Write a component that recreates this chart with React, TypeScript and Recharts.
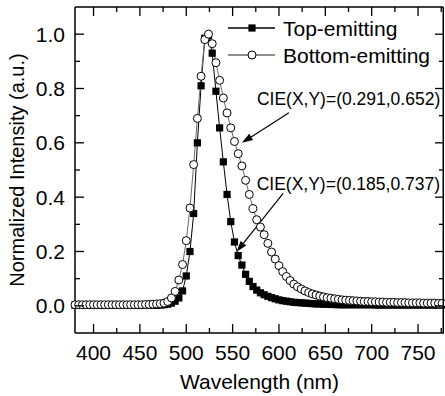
import React from "react";
import { LineChart, Line, XAxis, YAxis, Legend, ReferenceLine } from "recharts";

// wavelength grid (nm), 4 nm step
const wavelength = [
  380, 384, 388, 392, 396, 400, 404, 408, 412, 416, 420, 424, 428, 432, 436, 440, 444, 448, 452, 456,
  460, 464, 468, 472, 476, 480, 484, 488, 492, 496, 500, 504, 508, 512, 516, 520, 524, 528, 532, 536,
  540, 544, 548, 552, 556, 560, 564, 568, 572, 576, 580, 584, 588, 592, 596, 600, 604, 608, 612, 616,
  620, 624, 628, 632, 636, 640, 644, 648, 652, 656, 660, 664, 668, 672, 676, 680, 684, 688, 692, 696,
  700, 704, 708, 712, 716, 720, 724, 728, 732, 736, 740, 744, 748, 752, 756, 760, 764, 768, 772, 776,
];

const topEmitting = [
  0.002, 0.002, 0.002, 0.002, 0.002, 0.002, 0.002, 0.002, 0.002, 0.002, 0.002, 0.002, 0.002, 0.002, 0.002, 0.002, 0.002, 0.002, 0.002, 0.002,
  0.002, 0.002, 0.002, 0.003, 0.004, 0.006, 0.010, 0.017, 0.029, 0.055, 0.11, 0.2, 0.34, 0.6, 0.81, 0.985, 0.995, 0.93, 0.79, 0.655,
  0.53, 0.41, 0.31, 0.235, 0.185, 0.15, 0.116, 0.09, 0.071, 0.058, 0.048, 0.041, 0.035, 0.03, 0.026, 0.022, 0.019, 0.017, 0.015, 0.013,
  0.012, 0.011, 0.01, 0.009, 0.008, 0.007, 0.007, 0.006, 0.006, 0.005, 0.005, 0.004, 0.004, 0.004, 0.004, 0.004, 0.004, 0.004, 0.004, 0.004,
  0.004, 0.003, 0.003, 0.003, 0.003, 0.003, 0.003, 0.003, 0.003, 0.003, 0.003, 0.003, 0.003, 0.003, 0.003, 0.003, 0.003, 0.003, 0.003, 0.003,
];

const bottomEmitting = [
  0.004, 0.004, 0.004, 0.004, 0.004, 0.004, 0.004, 0.004, 0.004, 0.004, 0.004, 0.004, 0.004, 0.004, 0.004, 0.004, 0.004, 0.004, 0.004, 0.005,
  0.005, 0.006, 0.007, 0.008, 0.010, 0.016, 0.029, 0.053, 0.095, 0.152, 0.24, 0.36, 0.52, 0.69, 0.845, 0.98, 1.0, 0.965, 0.895, 0.83,
  0.765, 0.71, 0.655, 0.605, 0.56, 0.515, 0.462, 0.41, 0.358, 0.317, 0.29, 0.262, 0.23, 0.198, 0.172, 0.148, 0.126, 0.108, 0.093, 0.08,
  0.07, 0.062, 0.055, 0.049, 0.044, 0.04, 0.036, 0.033, 0.03, 0.028, 0.026, 0.024, 0.022, 0.021, 0.02, 0.019, 0.018, 0.017, 0.016, 0.016,
  0.015, 0.015, 0.014, 0.014, 0.013, 0.013, 0.013, 0.012, 0.012, 0.012, 0.011, 0.011, 0.011, 0.011, 0.01, 0.01, 0.01, 0.01, 0.009, 0.009,
];

const xDomain = [380, 778];
const yDomain = [-0.1, 1.1];
const xTicks = [400, 425, 450, 475, 500, 525, 550, 575, 600, 625, 650, 675, 700, 725, 750, 775];
const yTicks = [0, 0.1, 0.2, 0.3, 0.4, 0.5, 0.6, 0.7, 0.8, 0.9, 1.0];

const seriesNames = ["Top-emitting", "Bottom-emitting"];

// CIE notes: text, arrow tail and arrow tip in data units
const cieLabels = ["CIE(X,Y)=(0.291,0.652)", "CIE(X,Y)=(0.185,0.737)"];
const arrowFrom = [
  [610.7, 0.711],
  [604.5, 0.414],
];
const arrowTo = [
  [560, 0.6],
  [554.3, 0.199],
];
const labelShift = [
  [-32, -7.5],
  [-26.5, -3],
];

const data = wavelength.map((wl, i) => ({ wl, top: topEmitting[i], bottom: bottomEmitting[i] }));

const W = 445;
const H = 396;
const MARGIN = { top: 7, right: 1, bottom: 0, left: 0 };
const Y_AXIS_W = 75;
const X_AXIS_H = 63;
// plot box that follows from the margins and axis sizes above
const PLOT = {
  left: MARGIN.left + Y_AXIS_W,
  top: MARGIN.top,
  right: W - MARGIN.right,
  bottom: H - MARGIN.bottom - X_AXIS_H,
};

const FONT = "'Liberation Sans', Arial, sans-serif";
const BOTTOM_LINE = "#6a6a6a";

const Square = (p: any) =>
  p.cx == null ? null : (
    <rect key={`sq${p.index}`} x={p.cx - 3.6} y={p.cy - 3.6} width={7.2} height={7.2} fill="#000" />
  );

const Ring = (p: any) =>
  p.cx == null ? null : (
    <circle key={`ci${p.index}`} cx={p.cx} cy={p.cy} r={4} fill="#fff" stroke="#000" strokeWidth={1} />
  );

const isMajorX = (v: number) => v % 50 === 0;
const isMajorY = (v: number) => Math.round(v * 10) % 2 === 0;

function BottomTick(p: any) {
  const v = p.payload.value;
  const major = isMajorX(v);
  return (
    <g>
      <line x1={p.x} x2={p.x} y1={p.y} y2={p.y - (major ? 9 : 5)} stroke="#000" strokeWidth={1.3} />
      {major && (
        <text x={p.x} y={p.y + 26.5} textAnchor="middle" fontSize={21} fontFamily={FONT} fill="#000">
          {v}
        </text>
      )}
    </g>
  );
}

function LeftTick(p: any) {
  const v = p.payload.value;
  const major = isMajorY(v);
  return (
    <g>
      <line x1={p.x} x2={p.x + (major ? 9 : 5)} y1={p.y} y2={p.y} stroke="#000" strokeWidth={1.3} />
      {major && (
        <text x={p.x - 10} y={p.y + 7.5} textAnchor="end" fontSize={21} fontFamily={FONT} fill="#000">
          {v.toFixed(1)}
        </text>
      )}
    </g>
  );
}

// mirrored top/right frame with inward ticks, same linear mapping as the axes
function Frame() {
  const sx = (v: number) => PLOT.left + ((v - xDomain[0]) / (xDomain[1] - xDomain[0])) * (PLOT.right - PLOT.left);
  const sy = (v: number) => PLOT.top + ((yDomain[1] - v) / (yDomain[1] - yDomain[0])) * (PLOT.bottom - PLOT.top);
  return (
    <svg width={W} height={H} style={{ position: "absolute", left: 0, top: 0, pointerEvents: "none", zIndex: 5 }}>
      <line x1={PLOT.left} x2={PLOT.right - 0.75} y1={PLOT.top} y2={PLOT.top} stroke="#000" strokeWidth={1.5} />
      <line x1={PLOT.right - 0.75} x2={PLOT.right - 0.75} y1={PLOT.top} y2={PLOT.bottom} stroke="#000" strokeWidth={1.5} />
      {xTicks.map((v) => (
        <line key={`t${v}`} x1={sx(v)} x2={sx(v)} y1={PLOT.top} y2={PLOT.top + (isMajorX(v) ? 9 : 5)} stroke="#000" strokeWidth={1.3} />
      ))}
      {yTicks.map((v) => (
        <line key={`r${v}`} x1={PLOT.right} x2={PLOT.right - (isMajorY(v) ? 9 : 5)} y1={sy(v)} y2={sy(v)} stroke="#000" strokeWidth={1.3} />
      ))}
    </svg>
  );
}

function LegendBox() {
  const rows = [
    { name: seriesNames[0], line: "#000", marker: <rect x={26.4} y={24.4} width={7.2} height={7.2} fill="#000" /> },
    { name: seriesNames[1], line: BOTTOM_LINE, marker: <circle cx={30} cy={55} r={4} fill="#fff" stroke="#000" /> },
  ];
  const ys = [28, 55];
  return (
    <svg width={223} height={70} style={{ display: "block" }}>
      {rows.map((r, i) => (
        <g key={r.name}>
          <line x1={6} x2={53} y1={ys[i]} y2={ys[i]} stroke={r.line} strokeWidth={1.3} />
          {r.marker}
          <text x={61} y={ys[i] + 7.5} fontSize={21} fontFamily={FONT} fill="#000">
            {r.name}
          </text>
        </g>
      ))}
    </svg>
  );
}

function arrowShape(text: string, shift: number[]) {
  return (p: any) => {
    const { x1, y1, x2, y2 } = p;
    const ang = Math.atan2(y2 - y1, x2 - x1);
    const len = 11;
    const half = 3.6;
    const bx = x2 - len * Math.cos(ang);
    const by = y2 - len * Math.sin(ang);
    const nx = -Math.sin(ang) * half;
    const ny = Math.cos(ang) * half;
    return (
      <g>
        <line x1={x1} y1={y1} x2={bx} y2={by} stroke="#000" strokeWidth={1.2} />
        <polygon points={`${x2},${y2} ${bx + nx},${by + ny} ${bx - nx},${by - ny}`} fill="#000" />
        <text x={x1 + shift[0]} y={y1 + shift[1]} fontSize={17.5} fontFamily={FONT} fill="#000">
          {text}
        </text>
      </g>
    );
  };
}

export default function App() {
  return (
    <div style={{ width: W, height: H, position: "relative", background: "#fff" }}>
      <style>{"body{margin:0}"}</style>
      <LineChart width={W} height={H} data={data} margin={MARGIN}>
        <XAxis
          dataKey="wl"
          type="number"
          domain={xDomain}
          ticks={xTicks}
          interval={0}
          height={X_AXIS_H}
          tickLine={false}
          tickSize={0}
          tickMargin={0}
          axisLine={{ stroke: "#000", strokeWidth: 1.5 }}
          tick={(p: any) => <BottomTick {...p} />}
          label={{
            content: (lp: any) => {
              const vb = lp.viewBox || { x: 75, y: 333, width: 369 };
              return (
                <text x={vb.x + vb.width / 2} y={vb.y + 55.5} textAnchor="middle" fontSize={21} fontFamily={FONT} fill="#000">
                  Wavelength (nm)
                </text>
              );
            },
          }}
        />
        <YAxis
          type="number"
          domain={yDomain}
          ticks={yTicks}
          interval={0}
          width={Y_AXIS_W}
          tickLine={false}
          tickSize={0}
          tickMargin={0}
          axisLine={{ stroke: "#000", strokeWidth: 1.5 }}
          tick={(p: any) => <LeftTick {...p} />}
          label={{
            content: (lp: any) => {
              const vb = lp.viewBox || { x: 0, y: 7, height: 326 };
              const cx = vb.x + 17;
              const cy = vb.y + vb.height / 2;
              return (
                <text
                  transform={`translate(${cx},${cy}) rotate(-90)`}
                  textAnchor="middle"
                  dominantBaseline="central"
                  fontSize={20}
                  fontFamily={FONT}
                  fill="#000"
                >
                  Normalized Intensity (a.u.)
                </text>
              );
            },
          }}
        />
        <Legend
          layout="horizontal"
          verticalAlign="middle"
          align="center"
          wrapperStyle={{ left: 222, top: 0, width: 223, height: 70 }}
          content={() => <LegendBox />}
        />
        <Line
          dataKey="top"
          name={seriesNames[0]}
          type="linear"
          stroke="#000"
          strokeWidth={1}
          dot={Square}
          activeDot={false}
          isAnimationActive={false}
        />
        <Line
          dataKey="bottom"
          name={seriesNames[1]}
          type="linear"
          stroke={BOTTOM_LINE}
          strokeWidth={1}
          dot={Ring}
          activeDot={false}
          isAnimationActive={false}
        />
        {cieLabels.map((t, i) => (
          <ReferenceLine
            key={t}
            segment={[
              { x: arrowFrom[i][0], y: arrowFrom[i][1] },
              { x: arrowTo[i][0], y: arrowTo[i][1] },
            ]}
            shape={arrowShape(t, labelShift[i])}
          />
        ))}
      </LineChart>
      <Frame />
    </div>
  );
}
